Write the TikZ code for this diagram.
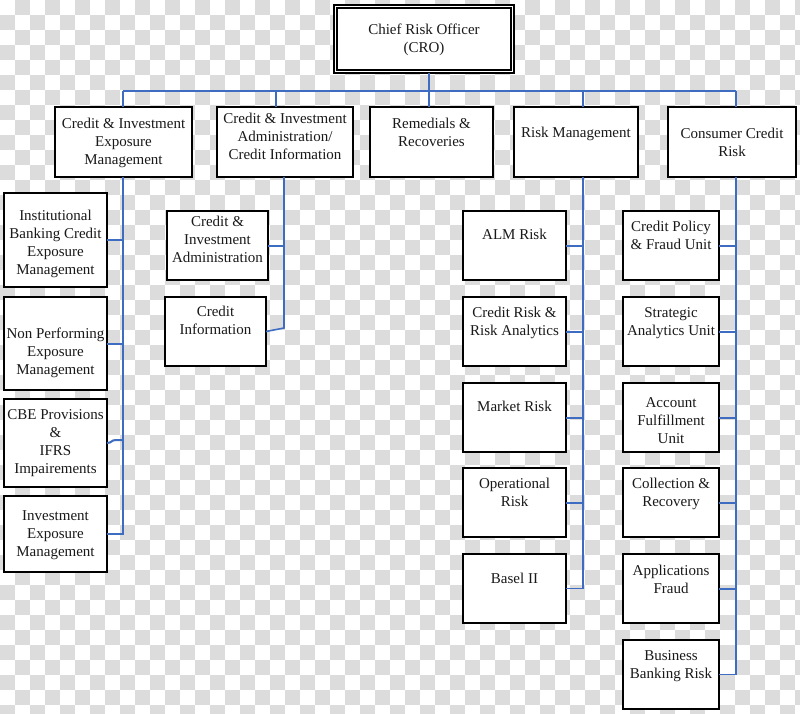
\documentclass[tikz,border=0pt]{standalone}
\usepackage{fontspec}
\setmainfont{Liberation Serif}
\usetikzlibrary{calc}
\definecolor{checkgray}{RGB}{220,220,220}
\definecolor{connblue}{RGB}{62,108,192}
\tikzset{
  box/.style={draw=black, line width=1.8pt, fill=white, inner sep=0pt, outer sep=0pt},
  txt/.style={font=\fontsize{15}{18}\selectfont, align=center, inner sep=0pt, text=black!90},
  conn/.style={draw=connblue, line width=1.6pt},
  hconn/.style={draw=connblue, line width=2pt},
}
\newcommand\obox[7]{%
  \node[box, anchor=north west, minimum width={(#4-#2)*1pt}, minimum height={(#5-#3)*1pt}] (#1) at (#2,#3) {};
  \node[txt, anchor=north] (#1-t) at ({(#2+#4)/2},{#6-6}) {#7};}
\begin{document}
\begin{tikzpicture}[x=1pt,y=-1pt]
\useasboundingbox (0,0) rectangle (800,714);
% transparency checkerboard
\fill[white] (0,0) rectangle (800,714);
\foreach \j in {0,...,47}{%
  \pgfmathtruncatemacro\s{mod(\j+1,2)}%
  \pgfmathtruncatemacro\t{\s+2}%
  \foreach \i in {\s,\t,...,53}{\fill[checkgray] (\i*15,\j*15) rectangle ++(15,15);}}

% CRO
\node[box, line width=1.3pt, anchor=north west, minimum width=180pt, minimum height=68pt] (cro) at (334,5) {};
\node[draw=black, line width=1.3pt, inner sep=0pt, outer sep=0pt, anchor=north west, minimum width=174pt, minimum height=62pt] (croin) at (337,8) {};
\node[txt, anchor=north] (cro-t) at (424,24) {Chief Risk Officer\\(CRO)};

% top level
\obox{b1}{55}{107}{192}{177}{124}{Credit \& Investment\\Exposure\\Management}
\obox{b2}{217}{107}{353}{177}{119}{Credit \& Investment\\Administration/\\Credit Information}
\obox{b3}{370}{107}{493}{177}{124}{Remedials \&\\Recoveries}
\obox{b4}{514}{107}{638}{177}{133}{Risk Management}
\obox{b5}{668}{107}{796}{177}{134}{Consumer Credit\\Risk}

% column 1
\obox{ib}{4}{193}{107}{287}{216}{Institutional\\Banking Credit\\Exposure\\Management}
\obox{np}{4}{297}{107}{390}{334}{Non Performing\\Exposure\\Management}
\obox{cbe}{4}{399}{107}{487}{415}{CBE Provisions\\\&\\IFRS\\Impairements}
\obox{ie}{4}{496}{107}{572}{516}{Investment\\Exposure\\Management}

% column 2
\obox{cia}{167}{211}{268}{280}{222}{Credit \&\\Investment\\Administration}
\obox{ci}{165}{297}{266}{366}{312}{Credit\\Information}

% column 4
\obox{alm}{463}{211}{566}{280}{235}{ALM Risk}
\obox{cr}{463}{297}{566}{366}{313}{Credit Risk \&\\Risk Analytics}
\obox{mr}{463}{383}{566}{452}{407}{Market Risk}
\obox{opr}{463}{468}{566}{537}{484}{Operational\\Risk}
\obox{bas}{463}{554}{566}{623}{579}{Basel II}

% column 5
\obox{cp}{623}{211}{719}{280}{227}{Credit Policy\\\& Fraud Unit}
\obox{sa}{623}{297}{719}{366}{313}{Strategic\\Analytics Unit}
\obox{af}{623}{383}{719}{452}{403}{Account\\Fulfillment\\Unit}
\obox{col}{623}{468}{719}{537}{484}{Collection \&\\Recovery}
\obox{apf}{623}{554}{719}{623}{571}{Applications\\Fraud}
\obox{bbr}{623}{640}{719}{709}{656}{Business\\Banking Risk}

% connectors
\coordinate (bus1) at (123,91);
\coordinate (bus2) at (276,91);
\coordinate (bus3) at (429,91);
\coordinate (bus4) at (583,91);
\coordinate (bus5) at (736,91);
\draw[conn] (bus1) -- (bus5);
\draw[conn] (cro.south -| bus3) -- (bus3);
\draw[conn] (bus1) -- (bus1 |- b1.north);
\draw[conn] (bus2) -- (bus2 |- b2.north);
\draw[conn] (bus3) -- (bus3 |- b3.north);
\draw[conn] (bus4) -- (bus4 |- b4.north);
\draw[conn] (bus5) -- (bus5 |- b5.north);

% column 1 connectors
\draw[conn] (bus1 |- b1.south) -- (bus1 |- ie.east) -- (ie.east);
\draw[hconn] (ib.east) -- (ib.east -| bus1);
\draw[hconn] (np.east) -- (np.east -| bus1);
\draw[hconn] (cbe.east) .. controls ($(cbe.east)+(5,0)$) and ($(cbe.east)+(4,-3)$) .. ($(cbe.east)+(9,-3)$) -- ($(cbe.east -| bus1)+(0,-3)$);

% column 2 connectors
\coordinate (c2x) at (284,177);
\coordinate (c2b) at (284,328);
\draw[conn] (c2x |- b2.south) -- (c2b) -- (ci.east);
\draw[hconn] (cia.east) -- (cia.east -| c2x);

% column 4 connectors
\draw[conn] (bus4 |- b4.south) -- (bus4 |- bas.east) -- (bas.east);
\foreach \n in {alm,cr,mr,opr}{\draw[hconn] (\n.east) -- (\n.east -| bus4);}

% column 5 connectors
\draw[conn] (bus5 |- b5.south) -- (bus5 |- bbr.east) -- (bbr.east);
\foreach \n in {cp,sa,af,col,apf}{\draw[hconn] (\n.east) -- (\n.east -| bus5);}
\end{tikzpicture}
\end{document}
